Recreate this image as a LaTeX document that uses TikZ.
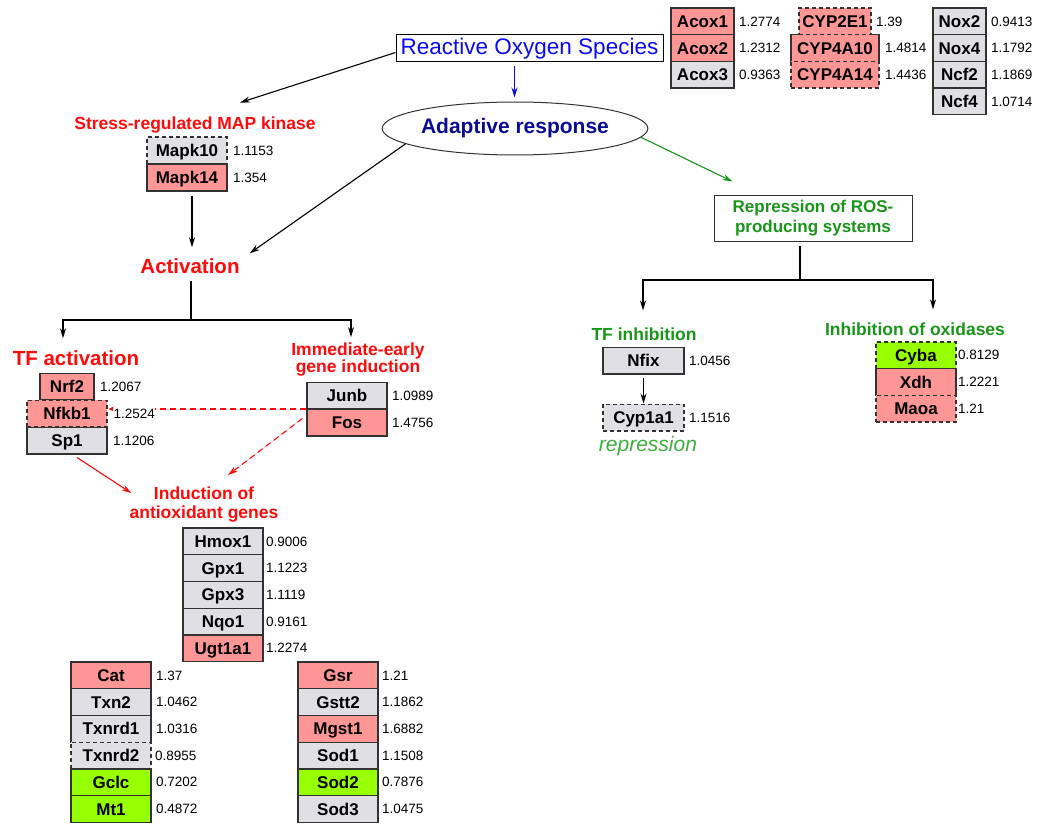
\documentclass[tikz,border=0pt]{standalone}
\usepackage{fontspec}
\setmainfont{Liberation Sans}
\usetikzlibrary{arrows.meta,calc,shapes.geometric}
\definecolor{pinkf}{RGB}{255,150,150}
\definecolor{grayf}{RGB}{224,224,228}
\definecolor{limef}{RGB}{150,255,0}
\definecolor{redt}{RGB}{255,10,10}
\definecolor{greent}{RGB}{25,150,25}
\definecolor{greenl}{RGB}{60,175,60}
\definecolor{rosblue}{RGB}{10,10,245}
\definecolor{navyt}{RGB}{10,10,150}
\definecolor{edge}{RGB}{50,50,50}
\begin{document}
\begin{tikzpicture}[x=1pt,y=-1pt,
  gb/.style={draw=edge, line width=1.3pt, inner sep=0pt, minimum height=26.7pt,
    text height=12.2pt, text depth=0pt, font=\bfseries\fontsize{17}{17}\selectfont, text=black},
  pk/.style={gb, fill=pinkf},
  gy/.style={gb, fill=grayf},
  lm/.style={gb, fill=limef},
  dsh/.style={dash pattern=on 4pt off 3pt},
  val/.style={anchor=west, inner sep=1pt, font=\fontsize{13.5}{14}\selectfont},
  redlab/.style={text=redt, font=\bfseries\fontsize{17.5}{17}\selectfont, inner sep=1pt, align=center},
  bigred/.style={text=redt, font=\bfseries\fontsize{20.5}{20}\selectfont, inner sep=1pt},
  greenlab/.style={text=greent, font=\bfseries\fontsize{17.5}{20}\selectfont, inner sep=1pt, align=center},
  arr/.style={-{Stealth[length=10pt,width=6pt]}, line width=1.1pt},
  sarr/.style={-{Stealth[length=5pt,width=5pt]}, line width=1.1pt},
  reddash/.style={color=redt, dash pattern=on 6pt off 4pt, line width=1.1pt},
]
\useasboundingbox (0,0) rectangle (1039,824);

% ---- top ----
\node[draw=black, line width=1pt, minimum width=267pt, minimum height=27pt, inner sep=0pt,
  text=rosblue, font=\fontsize{22.5}{22}\selectfont] (ros) at (529.5,48.5) {Reactive Oxygen Species};
\node[ellipse, draw=black!80, line width=1pt, minimum width=250pt, minimum height=53pt, inner sep=0pt,
  text=navyt, font=\bfseries\fontsize{21}{21}\selectfont] (adapt) at (515,128.5) {Adaptive response};

% Acox
\node[pk,minimum width=63pt] (Acox1) at (702.5,21.4) {Acox1};
\node[pk,minimum width=63pt] (Acox2) at (702.5,48.1) {Acox2};
\node[gy,minimum width=63pt] (Acox3) at (702.5,74.8) {Acox3};
\node[val] (vAcox1) at (738,21.4) {1.2774};
\node[val] (vAcox2) at (738,48.1) {1.2312};
\node[val] (vAcox3) at (738,74.8) {0.9363};
% CYP
\node[pk,minimum width=88pt] (CYP4A10) at (835,48.1) {CYP4A10};
\node[pk,dsh,minimum width=72pt] (CYP2E1) at (835,21.4) {CYP2E1};
\node[pk,dsh,minimum width=88pt] (CYP4A14) at (835,74.8) {CYP4A14};
\node[val] (vCYP2E1) at (875,21.4) {1.39};
\node[val] (vCYP4A10) at (884,48.1) {1.4814};
\node[val] (vCYP4A14) at (884,74.8) {1.4436};
% Nox
\node[gy,minimum width=53pt] (Nox2) at (959.5,21.4) {Nox2};
\node[gy,minimum width=53pt] (Nox4) at (959.5,48.1) {Nox4};
\node[gy,minimum width=53pt] (Ncf2) at (959.5,74.8) {Ncf2};
\node[gy,minimum width=53pt] (Ncf4) at (959.5,101.5) {Ncf4};
\node[val] (vNox2) at (990,21.4) {0.9413};
\node[val] (vNox4) at (990,48.1) {1.1792};
\node[val] (vNcf2) at (990,74.8) {1.1869};
\node[val] (vNcf4) at (990,101.5) {1.0714};

% ---- left upper ----
\node[redlab] (stress) at (195,125) {Stress-regulated MAP kinase};
\node[gy,dsh,minimum width=80pt] (Mapk10) at (187,150.5) {Mapk10};
\node[pk,minimum width=80pt] (Mapk14) at (187,177.5) {Mapk14};
\node[val] (vMapk10) at (232,150.5) {1.1153};
\node[val] (vMapk14) at (232,177.5) {1.354};

\node[bigred] (activation) at (190,266) {Activation};
\coordinate (actbr) at (191,320);

\node[bigred] (tfact) at (76,358) {TF activation};
\node[pk,minimum width=54pt] (Nrf2) at (67,386.5) {Nrf2};
\node[pk,dsh,minimum width=80pt] (Nfkb1) at (67,413.5) {Nfkb1};
\node[gy,minimum width=80pt] (Sp1) at (67,440.5) {Sp1};

\node[redlab] (immed) at (358,360) {Immediate-early\\gene induction};
\node[gy,minimum width=80pt] (Junb) at (347,395.5) {Junb};
\node[pk,minimum width=80pt] (Fos) at (347,422.5) {Fos};

\node[redlab, align=center, font=\bfseries\fontsize{17.5}{19}\selectfont] (induct) at (204,505) {Induction of\\antioxidant genes};

% connectors left
\draw[arr] ($(ros.west)+(0,4)$) -- ($(stress.north)+(45,-13)$);
\draw[arr, draw=rosblue, fill=rosblue] ($(ros.south)+(-15,4)$) -- ($(adapt.north)+(-0.5,-4)$);
\draw[arr] ($(Mapk14.south)+(5,4)$) -- ($(activation.north)+(2,-10)$);
\draw[arr] (adapt.188) -- ($(activation.north east)+(9,-4)$);
\draw[line width=1.1pt] ($(activation.south)+(1,6)$) -- (actbr);
\draw[arr] (actbr) -| ($(tfact.north)+(-13,-11)$);
\draw[arr] (actbr) -| ($(immed.north)+(-7,-5)$);
\draw[reddash, sarr, draw=redt, fill=redt] ($(Junb.south west)+(0,-0.5)$) -- ($(Nfkb1.east |- Junb.south west)+(1,-0.5)$);
\draw[reddash, arr, draw=redt, fill=redt] ($(Fos.west)+(-4,-4)$) -- ($(induct.north)+(24,-11)$);
\draw[arr, draw=redt, fill=redt] ($(Sp1.south)+(10,3)$) -- ($(induct.north west)+(3,7)$);

\node[val] (vNrf2) at (99,386.5) {1.2067};
\node[val, fill=white, inner xsep=0.5pt] (vNfkb1) at (113,413.5) {1.2524};
\node[val] (vSp1) at (112,440.5) {1.1206};
\node[val] (vJunb) at (391,395.5) {1.0989};
\node[val] (vFos) at (391,422.5) {1.4756};

% antioxidant genes
\node[gy,minimum width=80pt] (Hmox1) at (223,541.4) {Hmox1};
\node[gy,minimum width=80pt] (Gpx1) at (223,568.1) {Gpx1};
\node[gy,minimum width=80pt] (Gpx3) at (223,594.8) {Gpx3};
\node[gy,minimum width=80pt] (Nqo1) at (223,621.5) {Nqo1};
\node[pk,minimum width=80pt] (Ugt1a1) at (223,648.2) {Ugt1a1};
\node[val] (vHmox1) at (265,541.4) {0.9006};
\node[val] (vGpx1) at (265,568.1) {1.1223};
\node[val] (vGpx3) at (265,594.8) {1.1119};
\node[val] (vNqo1) at (265,621.5) {0.9161};
\node[val] (vUgt1a1) at (265,648.2) {1.2274};

\node[pk,minimum width=80pt] (Cat) at (111,675.4) {Cat};
\node[gy,minimum width=80pt] (Txn2) at (111,702.1) {Txn2};
\node[gy,minimum width=80pt] (Txnrd1) at (111,728.8) {Txnrd1};
\node[gy,dsh,minimum width=80pt] (Txnrd2) at (111,755.5) {Txnrd2};
\node[lm,minimum width=80pt] (Gclc) at (111,782.2) {Gclc};
\node[lm,minimum width=80pt] (Mt1) at (111,808.9) {Mt1};
\node[val] (vCat) at (155,675.4) {1.37};
\node[val] (vTxn2) at (155,702.1) {1.0462};
\node[val] (vTxnrd1) at (155,728.8) {1.0316};
\node[val] (vTxnrd2) at (154,755.5) {0.8955};
\node[val] (vGclc) at (155,782.2) {0.7202};
\node[val] (vMt1) at (155,808.9) {0.4872};

\node[pk,minimum width=80pt] (Gsr) at (338,675.4) {Gsr};
\node[gy,minimum width=80pt] (Gstt2) at (338,702.1) {Gstt2};
\node[pk,minimum width=80pt] (Mgst1) at (338,728.8) {Mgst1};
\node[gy,minimum width=80pt] (Sod1) at (338,755.5) {Sod1};
\node[lm,minimum width=80pt] (Sod2) at (338,782.2) {Sod2};
\node[gy,minimum width=80pt] (Sod3) at (338,808.9) {Sod3};
\node[val] (vGsr) at (381,675.4) {1.21};
\node[val] (vGstt2) at (381,702.1) {1.1862};
\node[val] (vMgst1) at (381,728.8) {1.6882};
\node[val] (vSod1) at (381,755.5) {1.1508};
\node[val] (vSod2) at (381,782.2) {0.7876};
\node[val] (vSod3) at (381,808.9) {1.0475};

% ---- right ----
\node[draw=edge, line width=1pt, minimum width=198pt, minimum height=46pt, inner sep=0pt,
  text=greent, align=center, font=\bfseries\fontsize{17}{20}\selectfont] (repbox) at (813,218) {Repression of ROS-\\producing systems};
\coordinate (repbr) at (800,280);
\node[greenlab] (tfinh) at (644,334) {TF inhibition};
\node[gy,minimum width=81pt] (Nfix) at (643.5,360.5) {Nfix};
\node[gy,dsh,minimum width=81pt] (Cyp1a1) at (643.5,417.5) {Cyp1a1};
\node[val] (vNfix) at (688,360.5) {1.0456};
\node[val] (vCyp1a1) at (688,417.5) {1.1516};
\node[text=greenl, inner sep=1pt, font=\itshape\fontsize{21}{21}\selectfont] (repr) at (648,446) {repression};

\node[greenlab] (inhox) at (915,329) {Inhibition of oxidases};
\node[lm,dsh,minimum width=80pt] (Cyba) at (916,355.3) {Cyba};
\node[pk,minimum width=80pt] (Xdh) at (916,382) {Xdh};
\node[pk,dsh,minimum width=80pt] (Maoa) at (916,408.7) {Maoa};
\node[val] (vCyba) at (957,355.3) {0.8129};
\node[val] (vXdh) at (957,382) {1.2221};
\node[val] (vMaoa) at (957,408.7) {1.21};

\draw[arr, draw=greent, fill=greent] (adapt.356) -- ($(repbox.north west)+(19,-13)$);
\draw[line width=1.1pt] ($(repbox.south)+(-13,4)$) -- (repbr);
\draw[arr] (repbr) -| ($(tfinh.north)+(-1,-16)$);
\draw[arr] (repbr) -| ($(inhox.north)+(18,-12)$);
\draw[arr] ($(Nfix.south)+(0,3)$) -- (Cyp1a1.north);
\end{tikzpicture}
\end{document}
